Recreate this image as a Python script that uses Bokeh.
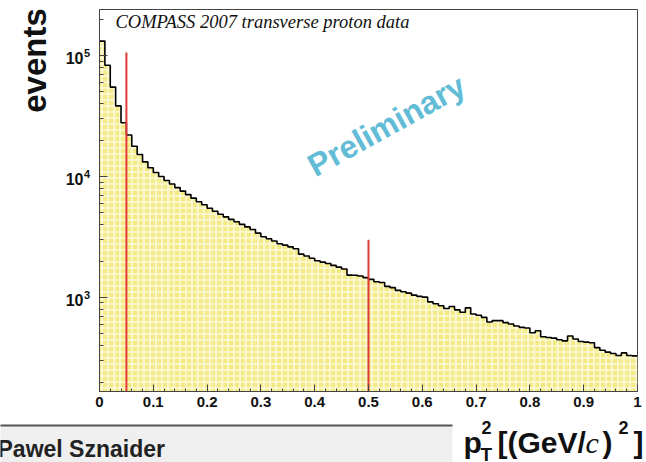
import numpy as np
from bokeh.plotting import figure
from bokeh.layouts import row, column
from bokeh.models import Range1d, FixedTicker, NumeralTickFormatter, Label
from bokeh.core.properties import value
from bokeh.embed import file_html
from bokeh.resources import INLINE

# ---------------- data ----------------
n_bins = 100
pt2_min, pt2_max = 0.0, 1.0
events = [131500, 83000, 54800, 38300, 27800, 22000, 17800, 15200, 13200, 11820,
          10800, 10000, 9260, 8660, 8090, 7570, 7080, 6620, 6190, 5840,
          5460, 5160, 4870, 4640, 4420, 4220, 4020, 3830, 3650, 3400,
          3180, 3060, 2930, 2780, 2710, 2620, 2530, 2280, 2200, 2110,
          2010, 1960, 1910, 1840, 1780, 1720, 1530, 1525, 1505, 1460,
          1410, 1350, 1330, 1235, 1205, 1145, 1115, 1086, 1045, 1020,
          1006, 920, 886, 853, 810, 841, 790, 754, 821, 731,
          712, 685, 627, 643, 643, 619, 604, 581, 566, 559,
          511, 531, 473, 467, 461, 447, 438, 480, 453, 432,
          427, 422, 385, 366, 353, 344, 331, 348, 331, 329]
cut_x = [0.05, 0.5]
cut_top = [106000, 3000]
x_ticks = [0, 0.1, 0.2, 0.3, 0.4, 0.5, 0.6, 0.7, 0.8, 0.9, 1.0]
y_ticks = [1e3, 1e4, 1e5]
y_tick_exp = ["3", "4", "5"]
y_lo, y_hi = 167, 240000

# ---------------- layout geometry (absolute page pixels) ----------------
W, H = 646, 462
LEFT_W = 92          # left strip (y title + tick labels)
TOP_H = 416          # height of the row holding the plot
FL, FR, FT, FB = 99, 637, 9, 391   # frame edges on the page
L0, L1 = float(np.log10(y_lo)), float(np.log10(y_hi))
PPD = (FB - FT) / (L1 - L0)

def dx(px):
    return float(pt2_min + (px - FL) / (FR - FL) * (pt2_max - pt2_min))

def dy(py):
    return float(10 ** (L0 + (FB - py) / PPD))

def py_of(v):
    return float(FB - (np.log10(v) - L0) * PPD)

edges = np.linspace(pt2_min, pt2_max, n_bins + 1)

# ---------------- main plot ----------------
p = figure(width=W - LEFT_W, height=TOP_H, output_backend="svg", toolbar_location=None,
           y_axis_type="log", x_range=Range1d(pt2_min, pt2_max),
           y_range=Range1d(y_lo, y_hi),
           min_border_left=FL - LEFT_W, min_border_right=W - FR,
           min_border_top=FT, min_border_bottom=TOP_H - FB)
p.background_fill_color = "white"
p.border_fill_color = "white"
p.outline_line_color = "#444444"
p.outline_line_width = 1
p.grid.visible = False

p.quad(left=edges[:-1], right=edges[1:], top=events, bottom=1,
       fill_color="#f4ea84", line_color=None,
       hatch_pattern="cross", hatch_color="white", hatch_scale=6,
       hatch_weight=1.5, hatch_alpha=0.75)
p.step(x=edges, y=list(events) + [events[-1]], mode="after",
       line_color="black", line_width=1.6)
p.segment(x0=cut_x, y0=[1, 1], x1=cut_x, y1=cut_top,
          line_color="#e23b35", line_width=2)

xa = p.xaxis[0]
xa.ticker = FixedTicker(ticks=x_ticks,
                        minor_ticks=[round(i * 0.02, 2) for i in range(51)])
xa.formatter = NumeralTickFormatter(format="0.[0]")
xa.major_tick_in = 7
xa.major_tick_out = 0
xa.minor_tick_in = 3
xa.minor_tick_out = 0
xa.major_label_standoff = 5
xa.major_label_text_font = "Liberation Sans"
xa.major_label_text_font_style = "bold"
xa.major_label_text_font_size = "15px"
xa.major_label_text_color = "#111111"
xa.axis_line_color = "#444444"
xa.major_tick_line_color = "#444444"
xa.minor_tick_line_color = "#444444"

ya = p.yaxis[0]
ya.ticker = FixedTicker(ticks=y_ticks,
                        minor_ticks=[m * 10 ** e for e in (2, 3, 4, 5) for m in range(2, 10)])
ya.major_tick_in = 8
ya.major_tick_out = 0
ya.minor_tick_in = 4
ya.minor_tick_out = 0
ya.major_label_standoff = 0
ya.major_label_text_alpha = 0
ya.major_label_text_font_size = "1px"
ya.major_label_overrides = {1000: " ", 10000: " ", 100000: " "}
ya.axis_line_color = "#444444"
ya.major_tick_line_color = "#444444"
ya.minor_tick_line_color = "#444444"

p.add_layout(Label(x=dx(115), y=dy(21), text="COMPASS 2007 transverse proton data",
                   text_font="Liberation Serif", text_font_style="italic",
                   text_font_size="18.5px", text_color="#111111",
                   text_baseline="middle"))
p.add_layout(Label(x=dx(386), y=dy(125), text="Preliminary", angle=29,
                   angle_units="deg", text_align="center", text_baseline="middle",
                   text_font="Liberation Sans", text_font_style="bold",
                   text_font_size="32px", text_color="#62bcd6"))

# ---------------- helper canvases (pixel coordinates, y downward) ----------------
def canvas(w, h, y_top, y_bot):
    # the canvas frame is mapped so that data y equals page pixel y
    c = figure(width=w, height=h, output_backend="svg",
               toolbar_location=None,
               x_range=Range1d(0, w), y_range=Range1d(y_bot, y_top),
               x_axis_type=None, y_axis_type=None,
               min_border=0, min_border_left=0, min_border_right=0,
               min_border_top=0, min_border_bottom=0)
    c.title.visible = False
    c.outline_line_color = None
    c.grid.visible = False
    c.background_fill_color = "white"
    c.border_fill_color = "white"
    return c

def txt(c, x, y, s, size, font="Liberation Sans", style="bold", align="left",
        angle=0.0, color="#111111"):
    # y is the vertical centre of the text line
    c.text(x=[x], y=[y], text=[s], text_font=value(font), text_font_style=style,
           text_font_size=size, text_align=align, text_baseline="middle",
           angle=angle, text_color=color)

# in a row Bokeh aligns the frame of this strip with the main frame (FT..FB)
left = canvas(LEFT_W, TOP_H, FT, FB)
txt(left, 34, 60, "events", "33px", align="center", angle=np.pi / 2)
for v, ex in zip(y_ticks, y_tick_exp):
    ty = py_of(v)
    txt(left, 83, ty + 3, "10", "16px", align="right")
    txt(left, 83.5, ty - 2.5, ex, "11px")

bottom = canvas(W, H - TOP_H, TOP_H, H)
bottom.quad(left=[-5], right=[452], top=[425], bottom=[470],
            fill_color="#efefef", line_color=None)
bottom.quad(left=[-5], right=[452], top=[424], bottom=[426],
            fill_color="#555555", line_color=None)
txt(bottom, -3, 448.5, "Pawel Sznaider", "23px", color="#222222")
# p_T^2 [(GeV/c)^2]
txt(bottom, 463, 441.5, "p", "30px")
txt(bottom, 481, 426.5, "2", "18px")
txt(bottom, 480, 454, "T", "19px")
txt(bottom, 497, 441.5, "[(GeV/", "30px")
txt(bottom, 585, 441.5, "c", "30px", font="Liberation Serif", style="italic")
txt(bottom, 602, 441.5, ")", "30px")
txt(bottom, 618, 426.5, "2", "18px")
txt(bottom, 633, 441.5, "]", "30px")

layout = column(row(left, p, spacing=0), bottom, spacing=0)
open("out.html", "w").write(file_html(layout, INLINE))
